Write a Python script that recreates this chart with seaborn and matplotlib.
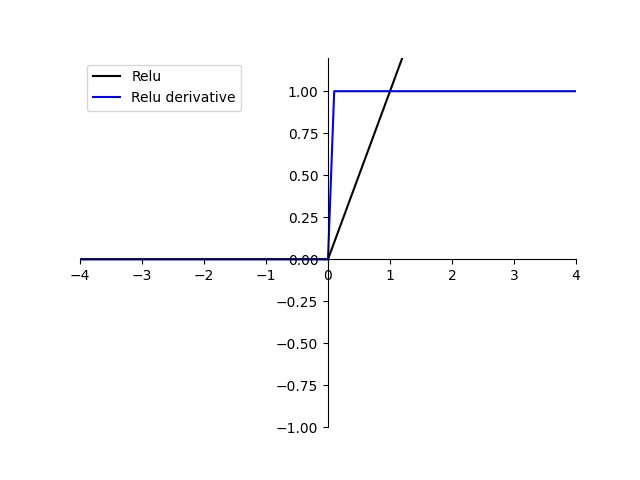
import matplotlib
matplotlib.use('Agg')
import matplotlib.pyplot as plt
import seaborn as sns

# sample points
x_vals = [-4.0, -1.0, 0.0, 0.1, 1.0, 2.0, 4.0]
relu_vals = [0.0, 0.0, 0.0, 0.1, 1.0, 2.0, 4.0]
relu_deriv_vals = [0.0, 0.0, 0.0, 1.0, 1.0, 1.0, 1.0]


def main():
    fig, ax = plt.subplots(figsize=(6.4, 4.8), dpi=100)

    sns.lineplot(x=x_vals, y=relu_vals, color='black', label='Relu', ax=ax)
    sns.lineplot(x=x_vals, y=relu_deriv_vals, color='blue', label='Relu derivative', ax=ax)

    ax.set_xlim(-4, 4)
    ax.set_ylim(-1, 1.2)
    ax.set_yticks([-1.0, -0.75, -0.5, -0.25, 0.0, 0.25, 0.5, 0.75, 1.0])

    # axes through the origin
    ax.spines['left'].set_position('zero')
    ax.spines['bottom'].set_position('zero')
    ax.spines['right'].set_visible(False)
    ax.spines['top'].set_visible(False)

    ax.legend(loc='upper left')
    fig.savefig('out.png')


if __name__ == '__main__':
    main()
